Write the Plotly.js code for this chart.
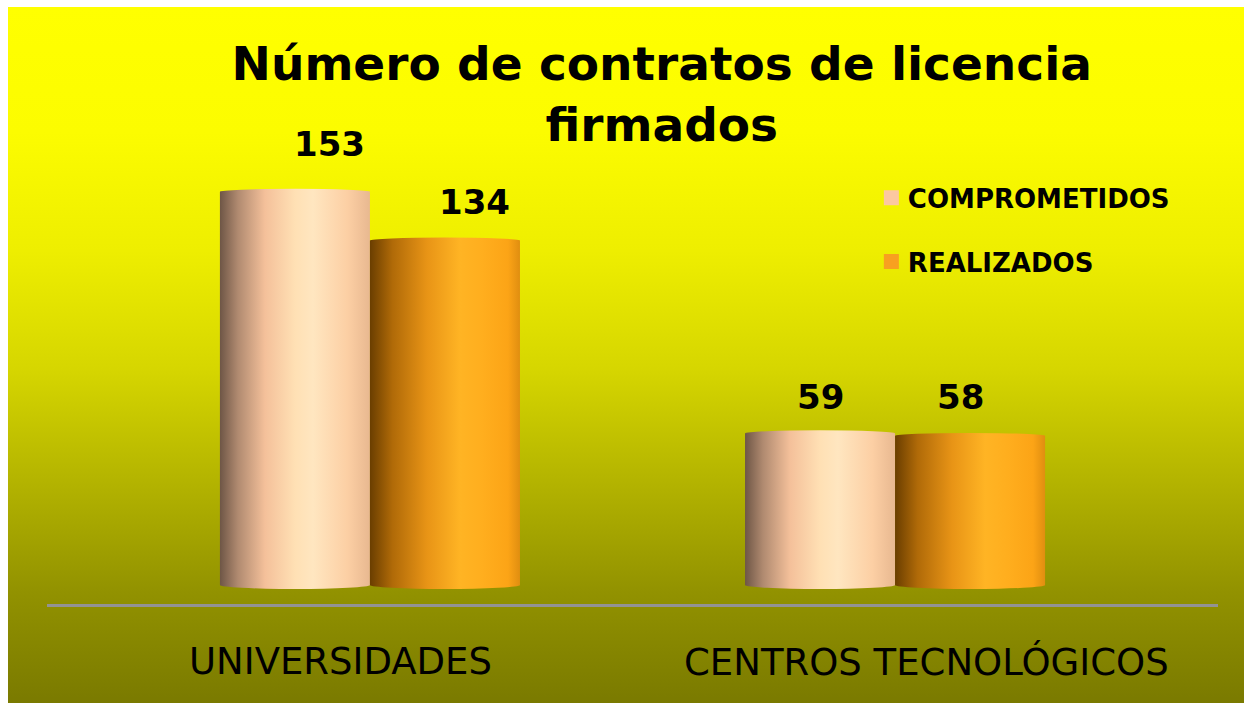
<!DOCTYPE html>
<html>
<head>
<meta charset="utf-8">
<script src="https://cdn.plot.ly/plotly-3.0.1.min.js"></script>
<style>
  html, body { margin: 0; padding: 0; background: #ffffff; }
  #wrap { position: relative; width: 1244px; height: 703px; background: #ffffff; overflow: hidden; }
  #bg { position: absolute; left: 8px; top: 7px; width: 1236px; height: 696px;
        background: linear-gradient(to bottom, #ffff00 0%, #fcfc00 18%, #eeee00 35%, #d6d600 52%, #b4b400 68%, #929200 84%, #7a7a00 100%); }
  #chart { position: absolute; left: 0; top: 0; width: 1244px; height: 703px; }
</style>
</head>
<body>
<div id="wrap"><div id="bg"></div><div id="chart"></div></div>
<script>
const categories = ["UNIVERSIDADES", "CENTROS TECNOLÓGICOS"];
const seriesNames = ["COMPROMETIDOS", "REALIZADOS"];
const comprometidos = [153, 59];
const realizados = [134, 58];
const titleText = "Número de contratos de licencia<br>firmados";

const seriesValues = [comprometidos, realizados];
const legendColors = ["#fcc8a0", "#f8a020"];

const traces = seriesValues.map((vals, i) => ({
  type: "bar",
  name: seriesNames[i],
  x: categories,
  y: vals,
  legendgroup: "g" + i,
  marker: { color: legendColors[i], line: { width: 0 } },
  hoverinfo: "skip"
}));

// label placement offsets (style only)
const labelXShift = [[-40, -75], [105, 65]];
const labelYShift = [[26, 14], [17, 17]];
const catLabelXShift = [-29, 31];

const annotations = [];
seriesValues.forEach((vals, i) => {
  vals.forEach((v, j) => {
    annotations.push({
      x: categories[j], y: v, xref: "x", yref: "y",
      text: String(v), showarrow: false, yanchor: "bottom",
      xshift: labelXShift[i][j], yshift: labelYShift[i][j],
      font: { family: "DejaVu Sans", size: 34, color: "#000000", weight: "bold" }
    });
  });
});
categories.forEach((c, j) => {
  annotations.push({
    x: c, y: 0, xref: "x", yref: "paper", yanchor: "top",
    text: c, showarrow: false, xshift: catLabelXShift[j], yshift: -34,
    font: { family: "DejaVu Sans", size: 37, color: "#000000" }
  });
});

const layout = {
  width: 1244, height: 703,
  paper_bgcolor: "rgba(0,0,0,0)", plot_bgcolor: "rgba(0,0,0,0)",
  margin: { l: 47, r: 26, t: 71, b: 99 },
  title: {
    text: titleText, xref: "container", x: 0.532, xanchor: "center",
    yref: "container", y: 0.886, yanchor: "top",
    font: { family: "DejaVu Sans", size: 47, color: "#000000", weight: "bold" }
  },
  barmode: "group", bargap: 0.4286, bargroupgap: 0,
  xaxis: {
    range: [-0.615, 1.615], showticklabels: false, ticks: "",
    showline: true, linecolor: "#939393", linewidth: 3, showgrid: false, zeroline: false
  },
  yaxis: { range: [-7.4, 200], visible: false, showgrid: false, zeroline: false },
  showlegend: true,
  legend: {
    x: 0.701, y: 0.806, xanchor: "left", yanchor: "top",
    bgcolor: "rgba(0,0,0,0)", tracegroupgap: 27,
    font: { family: "DejaVu Sans", size: 26, color: "#000000", weight: "bold" }
  },
  annotations: annotations
};

const gradStops = [
  [[0, "#6e5646"], [0.12, "#b08a70"], [0.3, "#f4c09a"], [0.5, "#ffe0b4"], [0.62, "#ffe6c0"], [0.85, "#fccfa4"], [1, "#e8b890"]],
  [[0, "#6a3e00"], [0.15, "#b06a08"], [0.38, "#e89416"], [0.6, "#ffb424"], [0.75, "#ffae1e"], [0.92, "#fca416"], [1, "#e08e10"]]
];

Plotly.newPlot("chart", traces, layout, { displayModeBar: false, staticPlot: true }).then(gd => {
  const svg = gd.querySelector(".main-svg");
  const ns = "http://www.w3.org/2000/svg";
  let defs = svg.querySelector("defs");
  if (!defs) { defs = document.createElementNS(ns, "defs"); svg.insertBefore(defs, svg.firstChild); }
  gradStops.forEach((stops, i) => {
    const g = document.createElementNS(ns, "linearGradient");
    g.setAttribute("id", "cyl" + i);
    g.setAttribute("x1", "0"); g.setAttribute("x2", "1");
    g.setAttribute("y1", "0"); g.setAttribute("y2", "0");
    stops.forEach(s => {
      const st = document.createElementNS(ns, "stop");
      st.setAttribute("offset", s[0]);
      st.setAttribute("stop-color", s[1]);
      g.appendChild(st);
    });
    defs.appendChild(g);
  });
  const traceGroups = gd.querySelectorAll(".barlayer .trace");
  traceGroups.forEach((tg, i) => {
    tg.querySelectorAll(".point path").forEach(p => {
      p.style.fill = "url(#cyl" + i + ")";
      const b = p.getBBox();
      const el = document.createElementNS(ns, "ellipse");
      el.setAttribute("cx", b.x + b.width / 2);
      el.setAttribute("cy", b.y + b.height);
      el.setAttribute("rx", b.width / 2);
      el.setAttribute("ry", 4);
      el.style.fill = "url(#cyl" + i + ")";
      p.parentNode.insertBefore(el, p);
      const top = document.createElementNS(ns, "ellipse");
      top.setAttribute("cx", b.x + b.width / 2);
      top.setAttribute("cy", b.y);
      top.setAttribute("rx", b.width / 2);
      top.setAttribute("ry", 3);
      top.style.fill = "url(#cyl" + i + ")";
      p.parentNode.appendChild(top);
    });
  });
  // enlarge legend squares and place them closer to the text
  gd.querySelectorAll(".legend .legendpoints path").forEach(p => {
    p.setAttribute("d", "M11,7.5H-4V-7.5H11Z");
  });
});
</script>
</body>
</html>
